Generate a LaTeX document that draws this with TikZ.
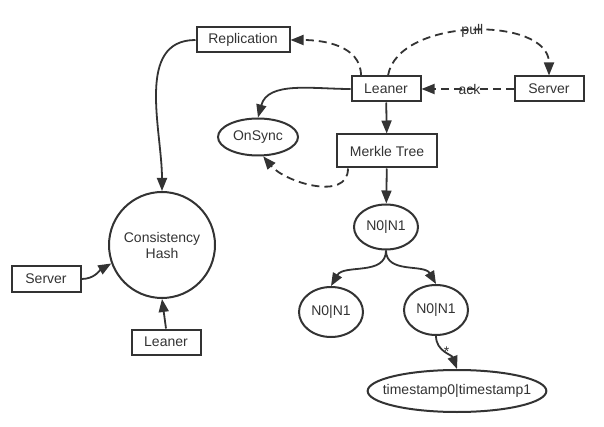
\documentclass[tikz,border=0pt]{standalone}
\usepackage{fontspec}
\setmainfont{Liberation Sans}
\usetikzlibrary{arrows.meta,shapes.geometric}
\definecolor{inkgray}{HTML}{333333}
\begin{document}
\begin{tikzpicture}[x=1pt,y=1pt,
    font=\fontsize{14}{16}\selectfont, text=inkgray,
    box/.style={draw=inkgray, line width=2pt, inner sep=0pt, minimum height=25pt},
    oval/.style={ellipse, draw=inkgray, line width=2pt, inner sep=0pt},
    link/.style={draw=inkgray, line width=1.8pt, -{Triangle[length=13pt,width=10pt]}},
    weak/.style={link, dash pattern=on 8pt off 5pt}]
% Parameters
\def\boxwidth{69}
\def\nodewidth{64}

% Canvas
\useasboundingbox (0,0) rectangle (604,-427);

% Boxes
\node[box, minimum width=93] (rep) at (243,-40) {Replication};
\node[box, minimum width=\boxwidth] (leaner) at (386,-89) {Leaner};
\node[box, minimum width=\boxwidth] (server) at (549,-89) {Server};
\node[box, minimum width=100, minimum height=33] (merkle) at (387,-151) {Merkle Tree};
\node[box, minimum width=\boxwidth] (serverL) at (46,-279) {Server};
\node[box, minimum width=\boxwidth] (leanerB) at (166,-342) {Leaner};

% Ovals
\node[oval, minimum width=80, minimum height=37] (onsync) at (258,-137) {OnSync};
\node[circle, draw=inkgray, line width=2pt, minimum size=106, align=center] (hash) at (162,-245) {Consistency\\Hash};
\node[oval, minimum width=\nodewidth, minimum height=45] (n0) at (386,-227) {N0|N1};
\node[oval, minimum width=\nodewidth, minimum height=50] (n1) at (331,-312) {N0|N1};
\node[oval, minimum width=\nodewidth, minimum height=50] (n2) at (436,-310) {N0|N1};
\node[oval, inner xsep=-11pt, minimum height=42] (stamp) at (457,-391) {timestamp0|timestamp1};

% Replication and hash ring
\draw[link] (rep.west) to[out=180,in=90] (hash.north);
\draw[link] (serverL.east) to[out=0,in=-150] (hash.200);
\draw[link] (leanerB.north) -- (hash.south);

% Leaner traffic
\draw[weak] ([xshift=-25pt]leaner.north) to[out=90,in=0] (rep.east);
\draw[weak] ([xshift=2pt]leaner.north) to[out=80,in=90,looseness=0.95] node{pull} (server.north);
\draw[weak] (server.west) -- node[xshift=2pt]{ack} (leaner.east);
\draw[link] (leaner.west) to[out=180,in=75] (onsync.north);
\draw[link] (leaner) -- (merkle);
\draw[weak] ([xshift=-39pt]merkle.south) to[out=-90,in=-50] (onsync.-75);

% Merkle tree
\draw[link] (merkle) -- (n0);
\foreach \kid/\bend in {n1/60, n2/120} {
    \draw[link] (n0.south) to[out=-90,in=\bend] (\kid.north);
}
\draw[link] (n2.south) to[out=-90,in=110] node[pos=0.5, xshift=2pt, yshift=1pt]{*} (stamp.north);
\end{tikzpicture}
\end{document}
